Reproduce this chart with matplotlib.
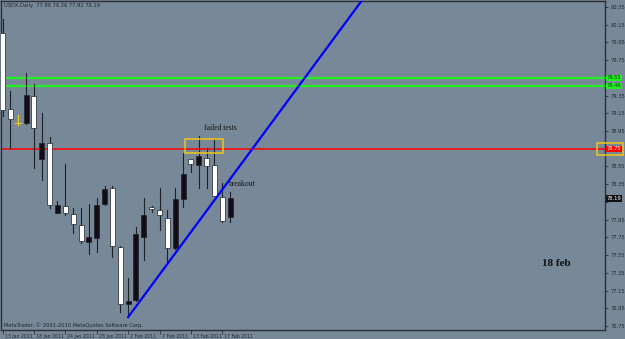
import matplotlib

matplotlib.use("Agg")
import matplotlib.pyplot as plt
import numpy as np
from matplotlib.patches import Rectangle
from matplotlib.transforms import ScaledTranslation, blended_transform_factory

BG = "#778899"
FRAME = "#2b2f36"
BULL = "#140c16"
BEAR = "#ffffff"
WICK = "#1e2228"
GREEN = "#22ee22"
RED = "#ff0000"
YELLOW = "#f0c814"
BLUE = "#0000ff"
SMALL = 3.7

# daily USDX bars, 13 Jan 2011 .. 18 Feb 2011
opens = [80.06, 79.20, 79.04, 79.045, 79.35, 78.64, 78.81, 78.03, 78.10, 78.01,
         77.89, 77.70, 77.74, 78.13, 78.31, 77.64, 77.00, 77.04, 77.76, 78.09,
         78.06, 77.97, 77.63, 78.18, 78.63, 78.57, 78.65, 78.57, 78.21, 77.98]
highs = [80.215, 79.405, 79.135, 79.60, 79.48, 79.15, 78.88, 78.16, 78.58, 78.08,
         78.08, 78.13, 78.20, 78.33, 78.33, 77.65, 77.29, 77.87, 78.20, 78.10,
         78.31, 78.06, 78.31, 78.70, 78.64, 78.89, 78.76, 78.85, 78.36, 78.26]
lows = [79.12, 78.76, 79.02, 79.03, 78.53, 78.40, 78.08, 78.02, 78.00, 77.80,
        77.69, 77.56, 77.58, 78.12, 77.53, 76.91, 76.85, 77.03, 77.49, 78.04,
        77.83, 77.47, 77.62, 78.09, 78.49, 78.31, 78.31, 78.22, 77.92, 77.92]
closes = [79.19, 79.09, 79.04, 79.36, 78.99, 78.81, 78.12, 78.12, 78.02, 77.90,
          77.71, 77.76, 78.11, 78.30, 77.65, 77.00, 77.03, 77.79, 78.00, 78.07,
          78.00, 77.63, 78.18, 78.46, 78.58, 78.67, 78.55, 78.22, 77.94, 78.19]

date_bars = [0, 4, 8, 12, 16, 20, 24, 28]
date_labels = ["13 Jan 2011", "18 Jan 2011", "24 Jan 2011", "28 Jan 2011",
               "2 Feb 2011", "7 Feb 2011", "13 Feb 2011", "17 Feb 2011"]
price_ticks = [76.75, 76.95, 77.15, 77.35, 77.55, 77.75, 77.95, 78.15, 78.35, 78.55,
               78.75, 78.95, 79.15, 79.35, 79.55, 79.75, 79.95, 80.15, 80.35]

green_levels = [79.55, 79.46]
red_level = 78.75
last_close = 78.19
trend_bars = [16, 22]
trend_prices = [76.85, 77.57]
box_bars = [23.25, 28.13]
box_prices = [78.70, 78.865]


def main() -> None:
    fig = plt.figure(figsize=(6.25, 3.39), dpi=100, facecolor=BG)
    ax = fig.add_axes([1.5 / 625, 9 / 339, 603.5 / 625, 329 / 339], facecolor=BG)
    ax.set_xlim(-0.13, 76.75)
    ax.set_ylim(76.705, 80.4175)

    for spine in ax.spines.values():
        spine.set_color(FRAME)
        spine.set_linewidth(1.0)

    # horizontal levels
    for level in green_levels:
        ax.axhline(level, color=GREEN, linewidth=1.6, zorder=1)
    ax.axhline(red_level, color=RED, linewidth=1.1, zorder=1)

    # candles
    width = 0.64
    for i, (o, h, l, c) in enumerate(zip(opens, highs, lows, closes)):
        if o == c:
            ax.plot([i, i], [l, h], color=YELLOW, linewidth=0.9, zorder=3)
            ax.plot([i - 0.4, i + 0.4], [o, o], color=YELLOW, linewidth=0.9, zorder=3)
            continue
        ax.plot([i, i], [l, h], color=WICK, linewidth=0.8, zorder=2)
        fill = BULL if c > o else BEAR
        ax.add_patch(Rectangle((i - width / 2, min(o, c)), width, abs(c - o),
                               facecolor=fill, edgecolor=WICK, linewidth=0.5, zorder=3))

    # trend line (ray to the upper right)
    slope = (trend_prices[1] - trend_prices[0]) / (trend_bars[1] - trend_bars[0])
    ray_x = np.array([trend_bars[0], 60])
    ax.plot(ray_x, trend_prices[0] + slope * (ray_x - trend_bars[0]),
            color=BLUE, linewidth=1.6, zorder=4)

    # "failed tests" box and the one round the red price label
    ax.add_patch(Rectangle((box_bars[0], box_prices[0]), box_bars[1] - box_bars[0],
                           box_prices[1] - box_prices[0], fill=False,
                           edgecolor=YELLOW, linewidth=1.1, zorder=5))
    ax.add_patch(Rectangle((75.7, 78.685), 3.35, 0.135, fill=False, edgecolor=YELLOW,
                           linewidth=1.1, zorder=6, clip_on=False))

    serif = ["Liberation Serif", "DejaVu Serif"]
    ax.text(27.7, 78.99, "failed tests", fontsize=5.5, family=serif, color="#151515",
            ha="center", va="center")
    ax.text(28.7, 78.35, "breakout", fontsize=5.5, family=serif, color="#151515",
            ha="left", va="center")
    ax.text(70.6, 77.45, "18 feb", fontsize=8, family=serif, fontweight="bold",
            color="#101010", ha="center", va="center")

    # axes ticks
    ax.yaxis.tick_right()
    ax.set_yticks(price_ticks)
    hidden = {78.15, 78.75, 79.55}
    ax.set_yticklabels(["" if t in hidden else f"{t:.2f}" for t in price_ticks])
    ax.tick_params(axis="y", length=2.5, width=0.6, pad=1.5, labelsize=SMALL,
                   colors=FRAME, labelcolor="#23282e")
    ax.set_xticks(date_bars)
    ax.set_xticklabels(date_labels)
    ax.tick_params(axis="x", length=3, width=0.6, pad=0, labelsize=3.3,
                   colors=FRAME, labelcolor="#23282e")
    shift = ScaledTranslation(1.5 / 72, 0, fig.dpi_scale_trans)
    for label in ax.get_xticklabels():
        label.set_ha("left")
        label.set_transform(label.get_transform() + shift)

    # price labels on the scale
    side = blended_transform_factory(ax.transAxes, ax.transData)
    for level in green_levels:
        ax.text(1.003, level, f"{level:.2f}", transform=side, fontsize=SMALL, color="#0b3d0b",
                ha="left", va="center", clip_on=False,
                bbox=dict(facecolor=GREEN, edgecolor="none", pad=0.5))
    ax.text(1.003, red_level, f"{red_level:.2f}", transform=side, fontsize=SMALL, color="white",
            ha="left", va="center", clip_on=False,
            bbox=dict(facecolor=RED, edgecolor="none", pad=0.5))
    ax.text(1.003, last_close, f"{last_close:.2f}", transform=side, fontsize=SMALL, color="white",
            ha="left", va="center", clip_on=False,
            bbox=dict(facecolor="#101010", edgecolor="none", pad=0.5))

    fig.text(4 / 625, 1 - 5 / 339, "USDX,Daily  77.98 78.26 77.92 78.19", fontsize=SMALL,
             color="#23282e", ha="left", va="center")
    fig.text(4 / 625, 1 - 325 / 339, "MetaTrader, \u00a9 2001-2010 MetaQuotes Software Corp.",
             fontsize=SMALL, color="#23282e", ha="left", va="center")

    fig.savefig("out.png", dpi=100, facecolor=BG)
    plt.close(fig)


if __name__ == "__main__":
    main()
